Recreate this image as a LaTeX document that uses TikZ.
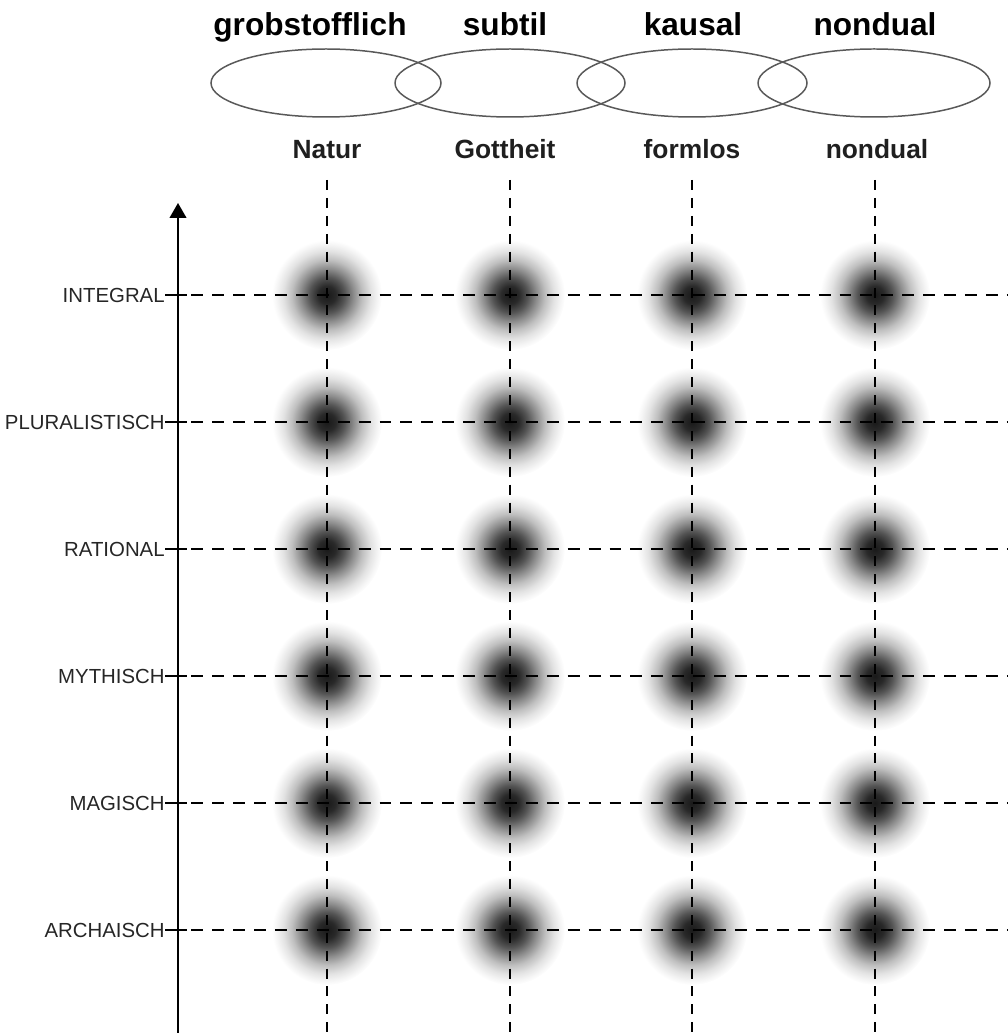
\documentclass[tikz,border=0pt]{standalone}
\usepackage{fontspec}
\setmainfont{Liberation Sans}
\usetikzlibrary{arrows.meta}
\pgfdeclareradialshading{blob}{\pgfpoint{0bp}{0bp}}{color(0bp)=(black!90); color(4bp)=(black!84); color(8bp)=(black!67); color(12bp)=(black!45); color(16bp)=(black!25); color(20bp)=(black!11); color(23bp)=(black!4); color(25bp)=(white); color(50bp)=(white)}

\begin{document}
\begin{tikzpicture}[x=0.02cm, y=-0.02cm,
  titel/.style={anchor=base, font=\fontsize{18}{20}\selectfont\bfseries},
  form/.style={anchor=base, font=\fontsize{15}{17}\selectfont\bfseries, text=black!88},
  stufe/.style={anchor=east, inner sep=0, font=\fontsize{11.6}{13}\selectfont, text=black!85},
  ring/.style={draw=black!65, line width=0.85pt},
  zeile/.style={dash pattern=on 6.8pt off 5.1pt, line width=1.1pt},
  spalte/.style={dash pattern=on 5.7pt off 4.5pt, line width=0.9pt}]
\useasboundingbox (0,0) rectangle (1007,1033);
% Zustaende
\node[titel] (grob) at (310,36) {grobstofflich};
\node[titel] (subtil) at (505,36) {subtil};
\node[titel] (kausal) at (693,36) {kausal};
\node[titel] (nondual) at (875,36) {nondual};
\draw[ring] (326,83) ellipse [x radius=115, y radius=34];
\draw[ring] (510,83) ellipse [x radius=115, y radius=34];
\draw[ring] (692,83) ellipse [x radius=115, y radius=34];
\draw[ring] (874,83) ellipse [x radius=116, y radius=34];
\node[form] (natur) at (327,159) {Natur};
\node[form] (gott) at (505,159) {Gottheit};
\node[form] (formlos) at (692,159) {formlos};
\node[form] (nd) at (877,159) {nondual};
% Flecken
\foreach \x in {327,510,692,875}
  \foreach \y in {295,422,549,676,803,930}
    \shade[shading=blob] (\x,\y) circle (55);
% Spalten
\coordinate (s1) at (327,180); \coordinate (e1) at (327,1033);
\coordinate (s2) at (510,180); \coordinate (e2) at (510,1033);
\coordinate (s3) at (692,180); \coordinate (e3) at (692,1033);
\coordinate (s4) at (875,180); \coordinate (e4) at (875,1033);
\draw[spalte] (s1) -- (e1);
\draw[spalte] (s2) -- (e2);
\draw[spalte, line width=1.4pt] (s3) -- (e3);
\draw[spalte, line width=1.4pt] (s4) -- (e4);
% Stufen
\node[stufe] (integral) at (165,295) {INTEGRAL};
\node[stufe] (plural) at (165,422) {PLURALISTISCH};
\node[stufe] (rational) at (165,549) {RATIONAL};
\node[stufe] (mythisch) at (165,676) {MYTHISCH};
\node[stufe] (magisch) at (165,803) {MAGISCH};
\node[stufe] (archaisch) at (165,930) {ARCHAISCH};
\coordinate (r1) at (1007,295);
\coordinate (r2) at (1007,422);
\coordinate (r3) at (1007,549);
\coordinate (r4) at (1007,676);
\coordinate (r5) at (1007,803);
\coordinate (r6) at (1007,930);
\draw[zeile, line width=1.6pt, dash phase=-15pt] (integral.east) -- (r1);
\draw[zeile, dash phase=-15pt] (plural.east) -- (r2);
\draw[zeile, dash phase=-15pt] (rational.east) -- (r3);
\draw[zeile, dash phase=-15pt] (mythisch.east) -- (r4);
\draw[zeile, dash phase=-15pt] (magisch.east) -- (r5);
\draw[zeile, line width=1.6pt, dash phase=-15pt] (archaisch.east) -- (r6);
\draw[line width=0.9pt] (integral.east) -- ++(22,0);
\draw[line width=0.9pt] (plural.east) -- ++(22,0);
\draw[line width=0.9pt] (rational.east) -- ++(22,0);
\draw[line width=0.9pt] (mythisch.east) -- ++(22,0);
\draw[line width=0.9pt] (magisch.east) -- ++(22,0);
\draw[line width=0.9pt] (archaisch.east) -- ++(22,0);
% Achse
\coordinate (unten) at (178,1033);
\coordinate (oben) at (178,203);
\draw[line width=1pt, -{Triangle[length=8.5pt, width=9.5pt]}] (unten) -- (oben);
\end{tikzpicture}
\end{document}
